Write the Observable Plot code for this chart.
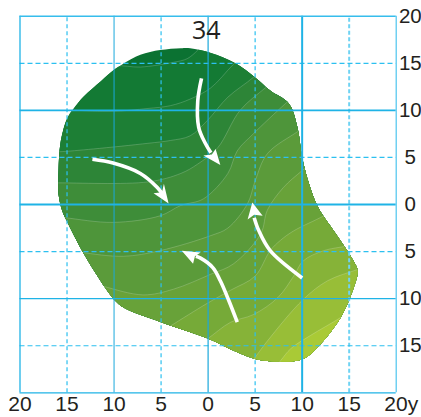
<!DOCTYPE html>
<html><head><meta charset="utf-8">
<style>html,body{margin:0;padding:0;background:#fff;overflow:hidden}svg{display:block}</style>
<script src="https://cdn.jsdelivr.net/npm/d3@7"></script>
<script src="https://cdn.jsdelivr.net/npm/@observablehq/plot@0.6"></script>
</head><body><script>
const outline=[[-2.9,16.6],[-1.9,16.6],[.3,16.1],[2.9,15],[5,13.5],[6.6,12.1],[8.6,10.7],[9.5,8.2],[10,5],[10.8,2],[11.7,-.3],[13.5,-3],[14.8,-4.9],[15.4,-5.9],[15.9,-7],[15.5,-8.8],[14.1,-12],[11.7,-15.1],[10.1,-16.4],[7.7,-16.7],[5,-16.4],[3.1,-15.7],[-.1,-14.2],[-5,-12.5],[-8.9,-11],[-9.9,-10.2],[-10.9,-8.9],[-13.4,-4.9],[-14.9,-2],[-15.5,-.7],[-15.9,1.1],[-15.9,3.6],[-15.7,6.5],[-15,9.1],[-14.3,10.2],[-13.2,11.5],[-11.4,13.1],[-10,14.3],[-9.1,14.9],[-7.2,15.9],[-5.1,16.4]];
const c1=[[-11.4,14],[-9.8,14.7],[-7.2,14.6],[-3.7,15.1],[-2.2,15.5],[-1.1,16.4],[-.3,17.3]];
const c2=[[-15.7,10],[-14.3,10],[-10.1,9.9],[-6.4,10.2],[-4,10.5],[-1.9,11.2],[.3,12.4],[2.6,14.8],[4,16.1]];
const c3=[[-17.3,5.6],[-15.9,5.6],[-12.2,5.9],[-6.4,6.5],[-4,6.8],[-1.9,7.3],[-.1,8.9],[2.1,11.4],[4.8,13.5],[6.1,14.8]];
const c4=[[-17.3,2.3],[-15.9,2.3],[-6.4,2.4],[-2.9,3.3],[-1.1,4.3],[1,6],[3.4,10],[6.1,12.4],[7.7,13.7]];
const c5=[[-16.8,-1.2],[-15.2,-1.4],[-10.1,-1.9],[-5.1,-1.2],[-2.9,-.1],[-.5,.6],[2.1,3.3],[3.1,5.7],[4.8,7.5],[8.2,10.7],[9.8,12.1]];
const c6=[[-14.6,-4.9],[-13.4,-5.1],[-9,-5.5],[-5.1,-4.9],[.3,-3.3],[2.1,-2.5],[4.2,.1],[5,2.5],[6.3,5.4],[9.6,7.8],[11.4,9.1]];
const c7=[[-12.5,-8.3],[-11.1,-8.7],[-6.9,-9.6],[-3.7,-9],[.3,-7.4],[2.7,-6.3],[5.6,-3.1],[6.3,-.6],[8,1.8],[10,3.6],[12,5.2]];
const c8=[[-5.6,-13.9],[-4,-12.9],[-.1,-10.5],[2.4,-9.1],[5,-7.6],[6.6,-4.9],[7.7,-3.8],[9.1,-2.8],[12.3,-1.2],[14.1,-.1]];
const c9=[[-1.9,-15.5],[-.1,-14.3],[2.4,-12.5],[4.8,-11.7],[7.4,-9.9],[9.1,-7.6],[10.1,-6],[12.3,-4.9],[14.8,-4.4],[17.3,-3.8]];
const c10=[[3.4,-18.2],[4.8,-16.5],[6.3,-14.5],[10.1,-10.1],[12.7,-8.1],[15.9,-6.9],[17.8,-6.2]];
const c11=[[6.4,-18.2],[7.7,-16.6],[8.8,-15.3],[10.9,-13.9],[14.1,-12],[16.7,-10.2]];
const contours=[c1,c2,c3,c4,c5,c6,c7,c8,c9,c10,c11];
const bandColors=["#137a34","#1d7f35","#2d8537","#3e8d39","#4e953a","#5b9b3a","#68a239","#76aa38","#86b338","#98be37","#a9ca36"];
const baseColor="#0b7232";
const farCorners=[[30,30],[30,-30],[-30,-30]];
const arrowShafts=[
 [[-.7,13.4],[-1.1,11],[-1,8.2],[-.3,6.5],[.3,5.5]],
 [[-12.3,4.8],[-10.1,4.4],[-7.2,3.3],[-5.4,1.8],[-4.7,.9]],
 [[3.1,-12.5],[2.2,-10.2],[1.3,-8.1],[.5,-6.7],[-.8,-5.7],[-1.3,-5.5]],
 [[10,-7.8],[6.6,-4.9],[5.4,-2.8],[4.9,-1.4]]];
const arrowHeads=[
 [[1.3,4.2],[.8,5.9],[.4,5.3],[-.5,5.2]],
 [[-4.2,.1],[-4.7,2.2],[-4.9,1.3],[-5.8,1.2]],
 [[-2.8,-4.9],[-.8,-5.1],[-1.4,-5.5],[-1.6,-6.3]],
 [[4.7,.2],[5.8,-1.2],[4.9,-1.1],[4.2,-1.6]]];
const xTicks=[-20,-15,-10,-5,0,5,10,15];
const xLabels=["20","15","10","5","0","5","10","15"];
const yTicks=[20,15,10,5,0,-5,-10,-15];
const yLabels=["20","15","10","5","0","5","10","15"];
const blue="#1fb3e6",dash="#2cc0f0";
const X=d=>d[0],Y=d=>d[1];
const tag=role=>(index,scales,values,dims,ctx,next)=>{const g=next(index,scales,values,dims,ctx);g.setAttribute("data-role",role);return g;};
const txt={fontFamily:"Liberation Sans, Arial, sans-serif",fontSize:21,fill:"#231f20"};
const svg=Plot.plot({
 width:421,height:417,marginLeft:19.5,marginRight:25.3,marginTop:15.7,marginBottom:24.7,
 style:{background:"#fff",overflow:"hidden"},
 x:{domain:[-20,20],axis:null},y:{domain:[-20,20],axis:null},
 marks:[
  Plot.line(outline,{x:X,y:Y,fill:baseColor,stroke:"none",curve:"catmull-rom-closed",render:tag("blob")}),
  ...contours.map((c,i)=>Plot.line([...c,...farCorners],{x:X,y:Y,fill:bandColors[i],stroke:"none",curve:"catmull-rom-closed",render:tag("band")})),
  ...contours.map(c=>Plot.line(c,{x:X,y:Y,stroke:"#fff",strokeOpacity:.28,strokeWidth:.7,curve:"catmull-rom",render:tag("band")})),
  ...[-15,-5,5].map(v=>Plot.ruleX([v],{y1:-20,y2:20,stroke:dash,strokeWidth:1.2,strokeDasharray:"4,3"})),
  Plot.ruleX([15],{y1:-20,y2:20,stroke:"#6fd3f3",strokeWidth:2,strokeDasharray:"4,2.5"}),
  ...[15,5,-5,-15].map(v=>Plot.ruleY([v],{x1:-20,x2:20,stroke:dash,strokeWidth:1.2,strokeDasharray:"5,3"})),
  Plot.ruleX([-10],{y1:-20,y2:20,stroke:"#1aa8dc",strokeWidth:1}),
  Plot.ruleX([0],{y1:-20,y2:20,stroke:"#1aa8dc",strokeWidth:1.2}),
  Plot.ruleX([10],{y1:-20,y2:20,stroke:blue,strokeWidth:2}),
  ...[10,0].map(v=>Plot.ruleY([v],{x1:-20,x2:20,stroke:blue,strokeWidth:1.9})),
  Plot.ruleY([-10],{x1:-20,x2:20,stroke:blue,strokeWidth:1.4}),
  Plot.ruleX([-20],{y1:-20,y2:20,stroke:blue,strokeWidth:1.3}),
  Plot.ruleX([20],{y1:-20,y2:20,stroke:"#4cc4ee",strokeWidth:1.2}),
  Plot.ruleY([20],{x1:-20,x2:20,stroke:"#36bdec",strokeWidth:1.6}),
  Plot.ruleY([-20],{x1:-20,x2:20,stroke:blue,strokeWidth:1.2}),
  ...arrowShafts.map(a=>Plot.line(a,{x:X,y:Y,stroke:"#fff",strokeWidth:3.6,curve:"catmull-rom",strokeLinecap:"butt"})),
  ...arrowHeads.map(a=>Plot.line(a,{x:X,y:Y,fill:"#fff",stroke:"none",curve:"linear-closed"})),
  Plot.text(xTicks,{x:d=>d,y:()=>-21.25,text:(d,i)=>xLabels[i],...txt,textAnchor:"middle"}),
  Plot.text(["20y"],{x:()=>20,y:()=>-21.25,text:d=>d,...txt,dx:5,textAnchor:"middle"}),
  Plot.text(yTicks,{x:()=>21.5,y:d=>d,text:(d,i)=>yLabels[i],...txt,fontSize:20.5,textAnchor:"middle"}),
  Plot.text(["34"],{x:()=>-.2,y:()=>18.45,text:d=>d,fontFamily:"Open Sans, sans-serif",fontSize:25,fill:"#231f20",textAnchor:"middle"})
 ]
});
document.body.append(svg);
// the blob's own rendered outline clips the contour bands
const d=svg.querySelector('g[data-role="blob"] path').getAttribute("d");
const ns="http://www.w3.org/2000/svg";
const cp=document.createElementNS(ns,"clipPath");cp.id="blobclip";
const p=document.createElementNS(ns,"path");p.setAttribute("d",d);cp.append(p);svg.append(cp);
svg.querySelectorAll('g[data-role="band"]').forEach(g=>g.setAttribute("clip-path","url(#blobclip)"));
</script></body></html>
